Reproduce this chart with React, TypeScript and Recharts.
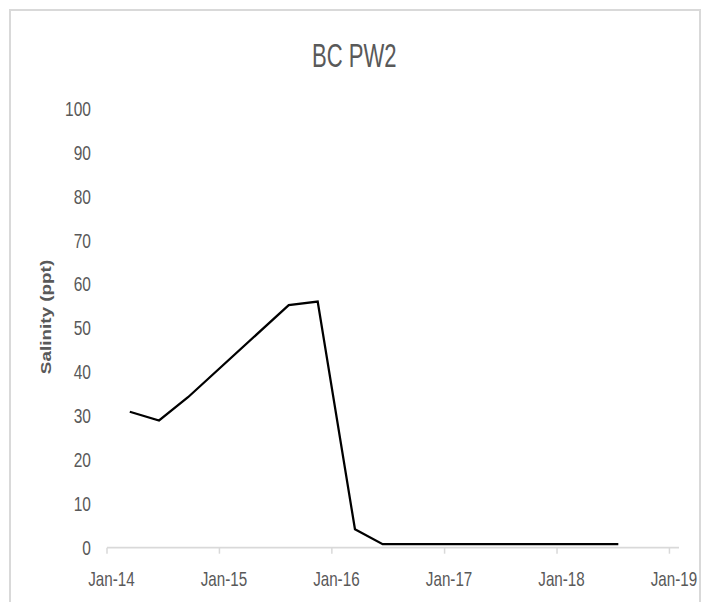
import React from 'react';
import { LineChart, Line, XAxis, YAxis, Customized } from 'recharts';

const sampleDates = ['2014-03-16', '2014-06-19', '2014-09-21', '2015-08-14', '2015-11-16', '2016-03-16', '2016-06-14', '2018-07-19'];
const salinity = [31.0, 29.0, 34.3, 55.3, 56.1, 4.2, 0.8, 0.8];
const xTickDates = ['2014-01-01', '2015-01-01', '2016-01-01', '2017-01-01', '2018-01-01', '2019-01-01'];
const xTickLabels = ['Jan-14', 'Jan-15', 'Jan-16', 'Jan-17', 'Jan-18', 'Jan-19'];
const yTicks = [0, 10, 20, 30, 40, 50, 60, 70, 80, 90, 100];
const xDomainDates = ['2014-01-01', '2019-02-01'];

const toT = (s: string) => Date.parse(s + 'T00:00:00Z');
const data = sampleDates.map((d, i) => ({ t: toT(d), v: salinity[i] }));
const xTicks = xTickDates.map(toT);
const labelFor = (t: number) => xTickLabels[xTicks.indexOf(t)] ?? '';

const FONT = "'Liberation Sans', Arial, sans-serif";
const GRAY = '#595959';

const XTick = (props: any) => {
  const { x, y, payload } = props;
  return (
    <text transform={`translate(${x + 4.5},${y + 13.5}) scale(0.95,1.22)`} textAnchor="middle" fill={GRAY} fontSize={16} fontFamily={FONT}>
      {labelFor(payload.value)}
    </text>
  );
};

const YTick = (props: any) => {
  const { x, y, payload } = props;
  return (
    <text transform={`translate(${x},${y + 7}) scale(0.97,1.22)`} textAnchor="end" fill={GRAY} fontSize={16} fontFamily={FONT}>
      {payload.value}
    </text>
  );
};

const Title = () => (
  <text transform="translate(354.3,66.7) scale(0.92,1.4)" textAnchor="middle" fill={GRAY} fontSize={24} fontFamily={FONT}>
    BC PW2
  </text>
);

const YTitle = () => (
  <text
    transform="translate(50.5,317) rotate(-90) scale(1.35,1)"
    textAnchor="middle"
    fill={GRAY}
    fontSize={14}
    fontWeight="bold"
    fontFamily={FONT}
  >
    Salinity (ppt)
  </text>
);

export default function App() {
  return (
    <div style={{ position: 'absolute', left: 0, top: 0, width: 701, height: 602, background: '#fff', overflow: 'hidden' }}>
      <div
        style={{
          position: 'absolute',
          left: 9,
          top: 9,
          width: 688,
          height: 593,
          borderTop: '2px solid #d9d9d9',
          borderLeft: '2px solid #d9d9d9',
          borderRight: '2px solid #d9d9d9',
        }}
      />
      <div style={{ position: 'absolute', left: 0, top: 0 }}>
        <LineChart width={701} height={602} data={data} margin={{ top: 109, right: 22, bottom: 0, left: 0 }}>
          <XAxis
            dataKey="t"
            type="number"
            scale="time"
            domain={xDomainDates.map(toT)}
            ticks={xTicks}
            tick={<XTick />}
            height={54.3}
            stroke="#d9d9d9"
            strokeWidth={1.75}
            tickLine={{ stroke: '#d9d9d9', strokeWidth: 1.5 }}
            tickSize={6}
            tickMargin={19}
            interval={0}
            allowDataOverflow
          />
          <YAxis
            type="number"
            domain={[0, 100]}
            ticks={yTicks}
            tick={<YTick />}
            width={107}
            axisLine={false}
            tickLine={false}
            tickSize={0}
            tickMargin={16}
            interval={0}
          />
          <Line
            type="linear"
            dataKey="v"
            stroke="#000"
            strokeWidth={2.25}
            dot={false}
            activeDot={false}
            isAnimationActive={false}
          />
          <Customized component={Title} />
          <Customized component={YTitle} />
        </LineChart>
      </div>
    </div>
  );
}
